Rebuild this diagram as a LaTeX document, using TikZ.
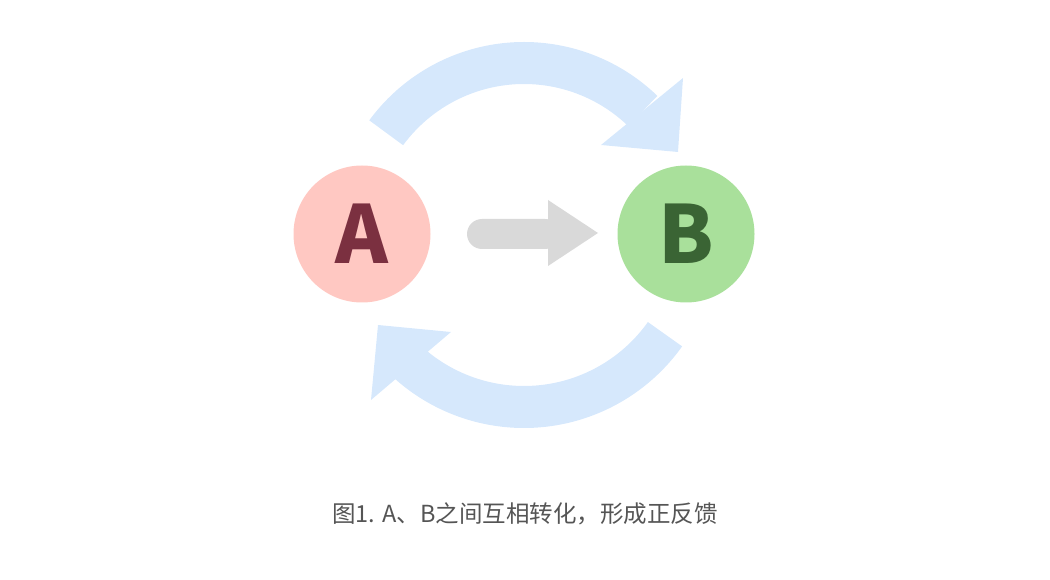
\documentclass[tikz,border=0pt]{standalone}
\usepackage{fontspec}
\usetikzlibrary{calc}
\setmainfont{Noto Sans CJK SC}
\definecolor{afill}{HTML}{FFC8C2}
\definecolor{atext}{HTML}{7B3040}
\definecolor{bfill}{HTML}{A9E09B}
\definecolor{btext}{HTML}{3A6434}
\definecolor{grayarr}{HTML}{D9D9D9}
\definecolor{bluearr}{HTML}{D6E8FC}
\definecolor{captxt}{HTML}{555555}
\begin{document}
\begin{tikzpicture}[x=1pt,y=1pt,
  ball/.style={circle,minimum size=137pt,inner sep=0pt,font=\fontsize{80}{80}\selectfont\bfseries},
  loop/.style={fill=bluearr,draw=none}]
\useasboundingbox (0,0) rectangle (1050,579);
\node[ball,fill=afill,text=atext] (A) at (362,345) {A};
\node[ball,fill=bfill,text=btext] (B) at (686,345) {B};
\coordinate (C) at (524,345);
% gray arrow
\fill[grayarr,rounded corners=15pt] (467,330) rectangle (560,360);
\fill[grayarr] (548,379) -- (598,346) -- (548,313) -- cycle;
% top loop
\fill[loop] ($(C)+(143.7:150)$) arc[start angle=143.7,end angle=46,radius=150]
  -- ($(C)+(46:192)$) arc[start angle=46,end angle=143.7,radius=192] -- cycle;
\fill[loop] (683,501) -- (678,427) -- (601,434) -- cycle;
% bottom loop
\fill[loop] ($(C)+(-35.4:152)$) arc[start angle=-35.4,end angle=-134,radius=152]
  -- ($(C)+(-134:194)$) arc[start angle=-134,end angle=-35.4,radius=194] -- cycle;
\fill[loop] (371,179) -- (378,254) -- (451,247) -- cycle;
\node[text=captxt,font=\fontsize{23.5}{23.5}\selectfont] (cap) at (525,65) {图1. A、B之间互相转化，形成正反馈};
\end{tikzpicture}
\end{document}
